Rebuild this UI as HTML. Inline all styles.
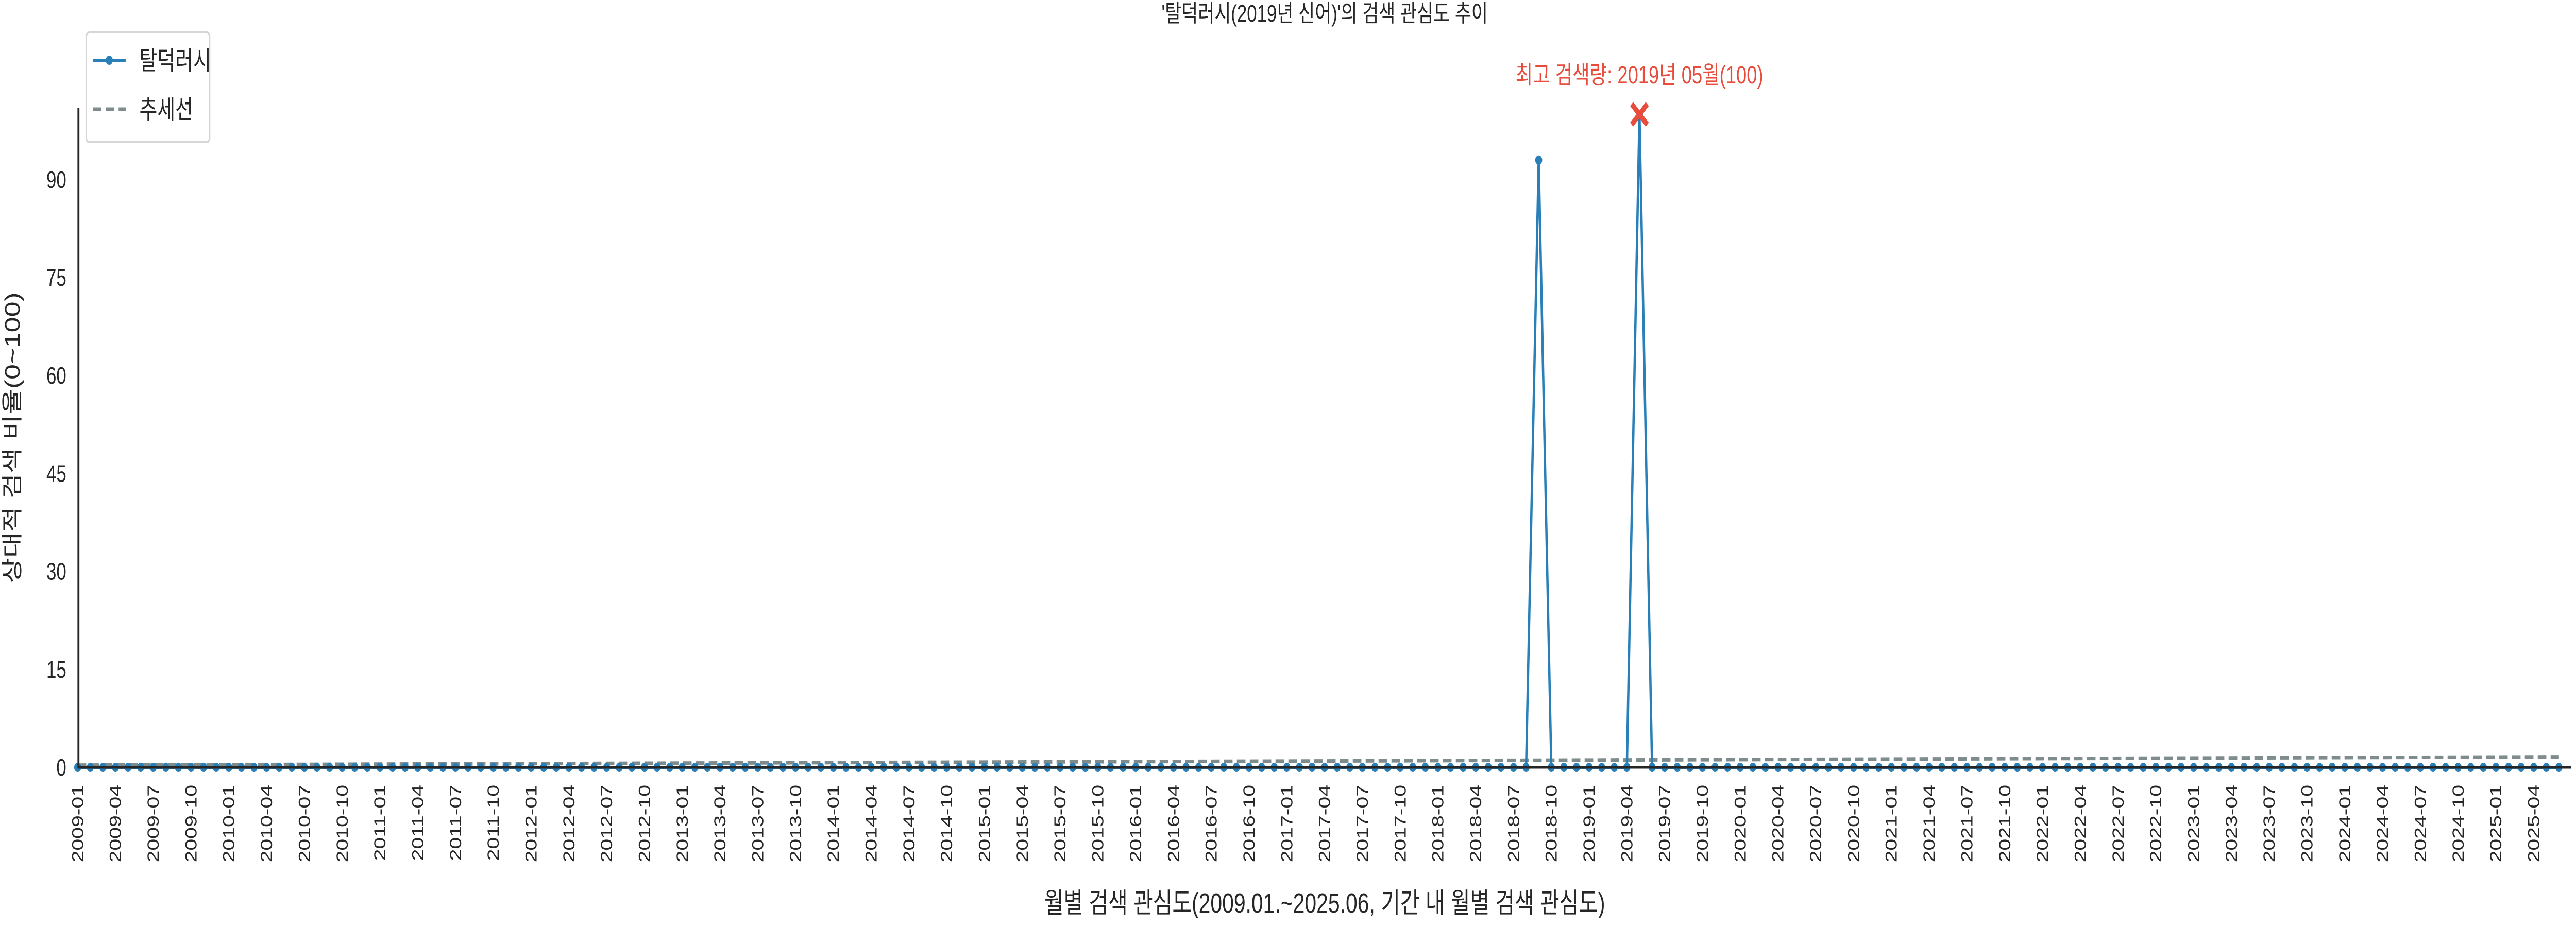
<!DOCTYPE html>
<html><head><meta charset="utf-8">
<style>
html,body{margin:0;padding:0;background:#fff;width:100%;height:100%;overflow:hidden;}
svg{display:block;position:absolute;left:0;top:0;width:100vw;height:100vh;}
text{font-family:"Liberation Sans","Noto Sans CJK KR",sans-serif;fill:#262626;}
</style></head>
<body>
<svg id="chart" viewBox="0 0 6600 1800" preserveAspectRatio="none" xmlns="http://www.w3.org/2000/svg">
<text x="3394" y="42" font-size="46" text-anchor="middle">'탈덕러시(2019년 신어)'의 검색 관심도 추이</text>
<g id="xticks"></g>
<g id="yticks"></g>
<g id="trend"></g>
<g id="series"></g>
<line x1="201" y1="210" x2="201" y2="1492" stroke="#262626" stroke-width="5"/>
<line x1="199" y1="1490" x2="6588" y2="1490" stroke="#262626" stroke-width="5"/>
<g id="annot"></g>
<text x="3394" y="1772" font-size="54" text-anchor="middle">월별 검색 관심도(2009.01.~2025.06, 기간 내 월별 검색 관심도)</text>
<text transform="translate(50,850) rotate(-90)" font-size="54" text-anchor="middle">상대적 검색 비율(0~100)</text>
<g>
<rect x="221" y="63" width="316" height="213" rx="8" fill="#fff" stroke="#d6d6d6" stroke-width="4"/>
<line x1="238" y1="117" x2="322" y2="117" stroke="#2980b9" stroke-width="6"/>
<circle cx="280" cy="117" r="9" fill="#2980b9"/>
<text x="357" y="135" font-size="50">탈덕러시</text>
<line x1="238" y1="212" x2="322" y2="212" stroke="#7f8c8d" stroke-width="7" stroke-dasharray="22,11"/>
<text x="357" y="230" font-size="50">추세선</text>
</g>
</svg>
<script>
const startYear = 2009;
const monthCount = 198;
const spikeIndex = [116, 124];
const spikeValue = [93, 100];
const yTicks = [0, 15, 30, 45, 60, 75, 90];
const peakLabel = "최고 검색량: 2019년 05월(100)";

const values = [];
for (let i = 0; i < monthCount; i++) values.push(0);
spikeIndex.forEach((idx, k) => { values[idx] = spikeValue[k]; });

const NS = "http://www.w3.org/2000/svg";
const x0 = 199, dx = 32.27;
const xs = i => x0 + i * dx;
const y0 = 1490, dy = 12.68;
const ys = v => y0 - v * dy;
function mk(tag, attrs, parent) {
  const e = document.createElementNS(NS, tag);
  for (const k in attrs) e.setAttribute(k, attrs[k]);
  parent.appendChild(e); return e;
}
const xt = document.getElementById('xticks');
for (let i = 0; i < monthCount; i += 3) {
  const y = startYear + Math.floor(i / 12), m = (i % 12) + 1;
  const t = mk('text', {transform: `translate(${xs(i) + 14},1524) rotate(-90)`, 'font-size': 41, 'text-anchor': 'end'}, xt);
  
  
  t.textContent = y + '-' + String(m).padStart(2, '0');
}
const yt = document.getElementById('yticks');
yTicks.forEach(v => {
  const t = mk('text', {x: 170, y: ys(v) + 16, 'font-size': 46, 'text-anchor': 'end'}, yt);
  
  
  t.textContent = v;
});
let n = values.length, sx = 0, sy = 0, sxx = 0, sxy = 0;
values.forEach((v, i) => { sx += i; sy += v; sxx += i * i; sxy += i * v; });
const slope = (n * sxy - sx * sy) / (n * sxx - sx * sx);
const icpt = (sy - slope * sx) / n;
const tl = mk('line', {x1: xs(0), y1: ys(icpt), x2: xs(n - 1), y2: ys(icpt + slope * (n - 1)), stroke: '#7f8c8d', 'stroke-width': 7, 'stroke-dasharray': '22,11'}, document.getElementById('trend'));


const sg = document.getElementById('series');
const pl = mk('polyline', {points: values.map((v, i) => xs(i) + ',' + ys(v)).join(' '), fill: 'none', stroke: '#2980b9', 'stroke-width': 6, 'stroke-linejoin': 'round'}, sg);


values.forEach((v, i) => {
  const c = mk('circle', {cx: xs(i), cy: ys(v), r: 9, fill: '#2980b9'}, sg);
  
  
});
let pi = 0; values.forEach((v, i) => { if (v > values[pi]) pi = i; });
const an = document.getElementById('annot');
const px = xs(pi), py = ys(values[pi]);
const xm = mk('path', {d: `M${px-20},${py-20}L${px+20},${py+20}M${px+20},${py-20}L${px-20},${py+20}`, stroke: '#e74c3c', 'stroke-width': 11}, an);


const at = mk('text', {x: px, y: py - 60, 'font-size': 48, 'text-anchor': 'middle', style: 'fill:#e74c3c'}, an);


at.textContent = peakLabel;
</script>
</body></html>
